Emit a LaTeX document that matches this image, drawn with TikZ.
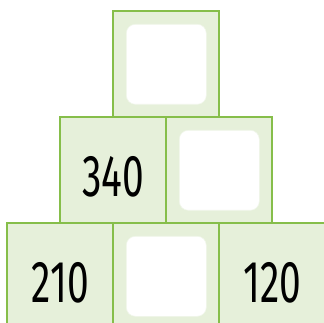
\documentclass[tikz,border=0pt]{standalone}
\usepackage{fontspec}
\usepackage{tikz}
\usetikzlibrary{positioning}
\newfontfamily\digitfont{Fira Sans}
\definecolor{cellGreen}{RGB}{134,190,74}
\definecolor{cellFill}{RGB}{230,240,218}
\definecolor{holeEdge}{RGB}{240,246,234}

\tikzset{
  cell/.style={draw=cellGreen, line width=1.8pt, fill=cellFill, minimum size=106pt,
    inner sep=0pt, text height=53pt, text depth=0pt,
    font=\digitfont\fontsize{59}{59}\selectfont},
  blank/.style={cell, path picture={
    \filldraw[white, draw=holeEdge, line width=0.6pt, rounded corners=9pt]
      ([shift={(13pt,13pt)}]path picture bounding box.south west) rectangle
      ([shift={(-13pt,-13pt)}]path picture bounding box.north east);}}
}
\newcommand{\num}[1]{\scalebox{0.66}[1]{#1}}

\begin{document}
\begin{tikzpicture}[x=1pt, y=-1pt]
\clip (0,0) rectangle (324,323);
% bottom row
\node[cell]  (b1) at (60.3,276.3) {\num{210}};
\node[blank] (b2) at (166.3,276.3) {};
\node[cell]  (b3) at (272.3,276.3) {\num{120}};
% middle row
\node[cell]  (m1) at (113.3,170.3) {\num{340}};
\node[blank] (m2) at (219.3,170.3) {};
% top
\node[blank] (t1) at (166.3,64.3) {};
\end{tikzpicture}
\end{document}
